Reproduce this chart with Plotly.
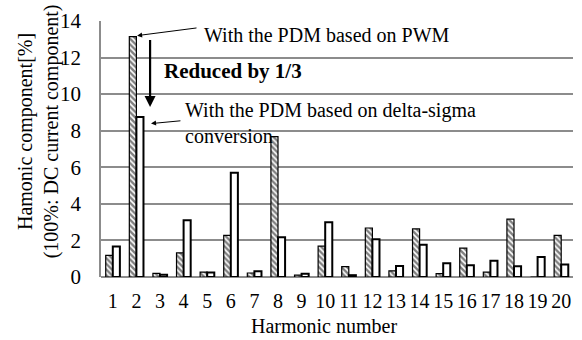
import plotly.graph_objects as go

harmonics = list(range(1, 21))
pwm = [1.18, 13.15, 0.2, 1.32, 0.27, 2.28, 0.22, 7.68, 0.1, 1.69,
       0.57, 2.68, 0.34, 2.63, 0.18, 1.58, 0.27, 3.16, 0.0, 2.28]
delta_sigma = [1.67, 8.75, 0.12, 3.1, 0.25, 5.7, 0.32, 2.17, 0.18, 3.0,
               0.1, 2.06, 0.6, 1.76, 0.75, 0.64, 0.89, 0.59, 1.1, 0.69]
y_ticks = [0, 2, 4, 6, 8, 10, 12, 14]

FONT = "Liberation Serif, Times New Roman, serif"

fig = go.Figure()
fig.add_trace(go.Bar(
    x=harmonics, y=pwm, name="PWM",
    marker=dict(color="white",
                line=dict(color="black", width=1.2),
                pattern=dict(shape="\\", fgcolor="black", bgcolor="white",
                             size=4, solidity=0.6)),
))
fig.add_trace(go.Bar(
    x=harmonics, y=delta_sigma, name="Delta-sigma",
    marker=dict(color="white", line=dict(color="black", width=2)),
))

fig.update_layout(
    width=582, height=340,
    margin=dict(l=101, r=9, t=15, b=63),
    paper_bgcolor="white", plot_bgcolor="white",
    barmode="group", bargap=0.4, bargroupgap=0,
    showlegend=False,
    font=dict(family=FONT, size=20, color="black"),
)
fig.update_xaxes(
    range=[0.5, 20.5], tickmode="array", tickvals=harmonics,
    ticktext=[str(h) for h in harmonics],
    showgrid=False, showline=False, ticks="", zeroline=False,
    ticklabelstandoff=10,
    tickfont=dict(family=FONT, size=20),
)
fig.update_yaxes(
    range=[0, 14], tickmode="array", tickvals=y_ticks,
    ticktext=[str(t) for t in y_ticks],
    showgrid=True, gridcolor="#8c8c8c", gridwidth=1.5,
    showline=True, linecolor="#8c8c8c", linewidth=1.5,
    zeroline=True, zerolinecolor="#8c8c8c", zerolinewidth=2,
    ticks="", ticklen=0, ticklabelstandoff=14,
    tickfont=dict(family=FONT, size=21),
)

# axis titles
fig.add_annotation(
    text="Hamonic component[%]<br>(100%: DC current component)",
    xref="paper", yref="paper", x=0, y=0.569, xshift=-63,
    xanchor="center", yanchor="middle", textangle=-90, showarrow=False,
    font=dict(family=FONT, size=20),
)
fig.add_annotation(
    text="Harmonic number", xref="paper", yref="paper",
    x=0.472, y=0, yshift=-49, xanchor="center", yanchor="middle",
    showarrow=False, font=dict(family=FONT, size=20),
)

# callouts
fig.add_annotation(
    text="With the PDM based on PWM", x=4.78, y=13.25,
    xanchor="left", yanchor="middle", showarrow=False,
    font=dict(family=FONT, size=20),
)
fig.add_annotation(
    text="", x=2.03, y=13.2, ax=4.61, ay=13.63, axref="x", ayref="y",
    showarrow=True, arrowhead=2, arrowsize=1, arrowwidth=1, arrowcolor="black",
)
fig.add_annotation(
    text="<b>Reduced by 1/3</b>", x=3.08, y=11.28,
    xanchor="left", yanchor="middle", showarrow=False,
    font=dict(family=FONT, size=21),
)
fig.add_annotation(
    text="", x=2.58, y=9.3, ax=2.58, ay=13.04, axref="x", ayref="y",
    showarrow=True, arrowhead=2, arrowsize=1, arrowwidth=2.2, arrowcolor="black",
)
fig.add_annotation(
    text="With the PDM based on delta-sigma<br>conversion", x=3.97, y=8.44,
    xanchor="left", yanchor="middle", align="left", showarrow=False,
    font=dict(family=FONT, size=20),
)
fig.add_annotation(
    text="", x=2.62, y=8.39, ax=3.93, ay=8.55, axref="x", ayref="y",
    showarrow=True, arrowhead=2, arrowsize=1, arrowwidth=1, arrowcolor="black",
)

fig.write_html("out.html")
